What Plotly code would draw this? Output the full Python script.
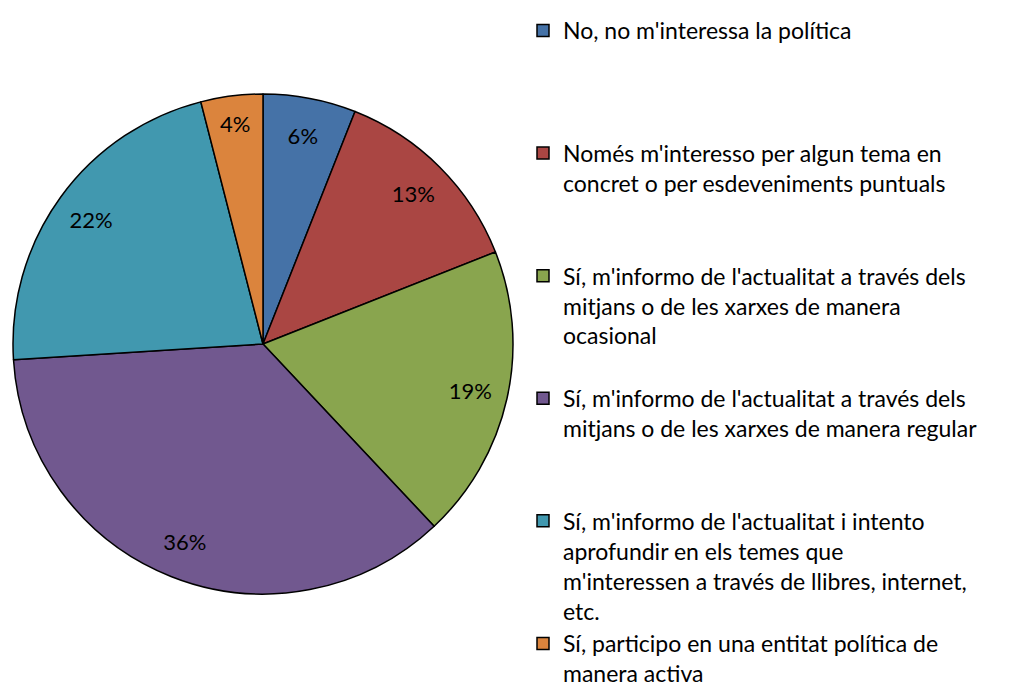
import plotly.graph_objects as go

categories = [
    "No, no m'interessa la política",
    "Només m'interesso per algun tema en<br>concret o per esdeveniments puntuals",
    "Sí, m'informo de l'actualitat a través dels<br>mitjans o de les xarxes de manera<br>ocasional",
    "Sí, m'informo de l'actualitat a través dels<br>mitjans o de les xarxes de manera regular",
    "Sí, m'informo de l'actualitat i intento<br>aprofundir en els temes que<br>m'interessen a través de llibres, internet,<br>etc.",
    "Sí, participo en una entitat política de<br>manera activa",
]
values = [6, 13, 19, 36, 22, 4]
colors = ["#4572A7", "#AA4643", "#89A54E", "#71588F", "#4198AF", "#DB843D"]

# pad legend entries (except the last) to 4 lines so entries are evenly spaced
def pad(label, n=4):
    lines = label.count("<br>") + 1
    return label + "<br>\u00a0" * max(0, n - lines)

labels = [pad(c) for c in categories[:-1]] + [categories[-1]]

FONT = "Lato"
pie_domain = dict(x=[5 / 1011, 505 / 1011], y=[1 - 587 / 687, 1 - 85 / 687])

fig = go.Figure()
fig.add_trace(go.Pie(
    labels=labels,
    values=values,
    sort=False,
    direction="clockwise",
    rotation=0,
    marker=dict(colors=colors, line=dict(color="black", width=1.5)),
    textinfo="none",
    hoverinfo="label+percent",
    domain=pie_domain,
))
# transparent ring carrying the percentage labels near the rim
fig.add_trace(go.Pie(
    labels=labels,
    values=values,
    sort=False,
    direction="clockwise",
    rotation=0,
    hole=0.7,
    showlegend=False,
    marker=dict(colors=["rgba(0,0,0,0)"] * len(values), line=dict(width=0)),
    texttemplate="%{value}%",
    textposition="inside",
    insidetextorientation="horizontal",
    textfont=dict(family=FONT, size=22, color="black"),
    hoverinfo="skip",
    domain=pie_domain,
))

fig.update_layout(
    width=1011,
    height=687,
    margin=dict(l=0, r=0, t=0, b=0),
    paper_bgcolor="white",
    plot_bgcolor="white",
    font=dict(family=FONT, size=23, color="black"),
    legend=dict(
        x=515 / 1011,
        xanchor="left",
        y=1 - 4 / 687,
        yanchor="top",
        valign="top",
        maxheight=2000,
        font=dict(family=FONT, size=23, color="black"),
        bgcolor="rgba(0,0,0,0)",
    ),
)

fig.write_html("out.html")
